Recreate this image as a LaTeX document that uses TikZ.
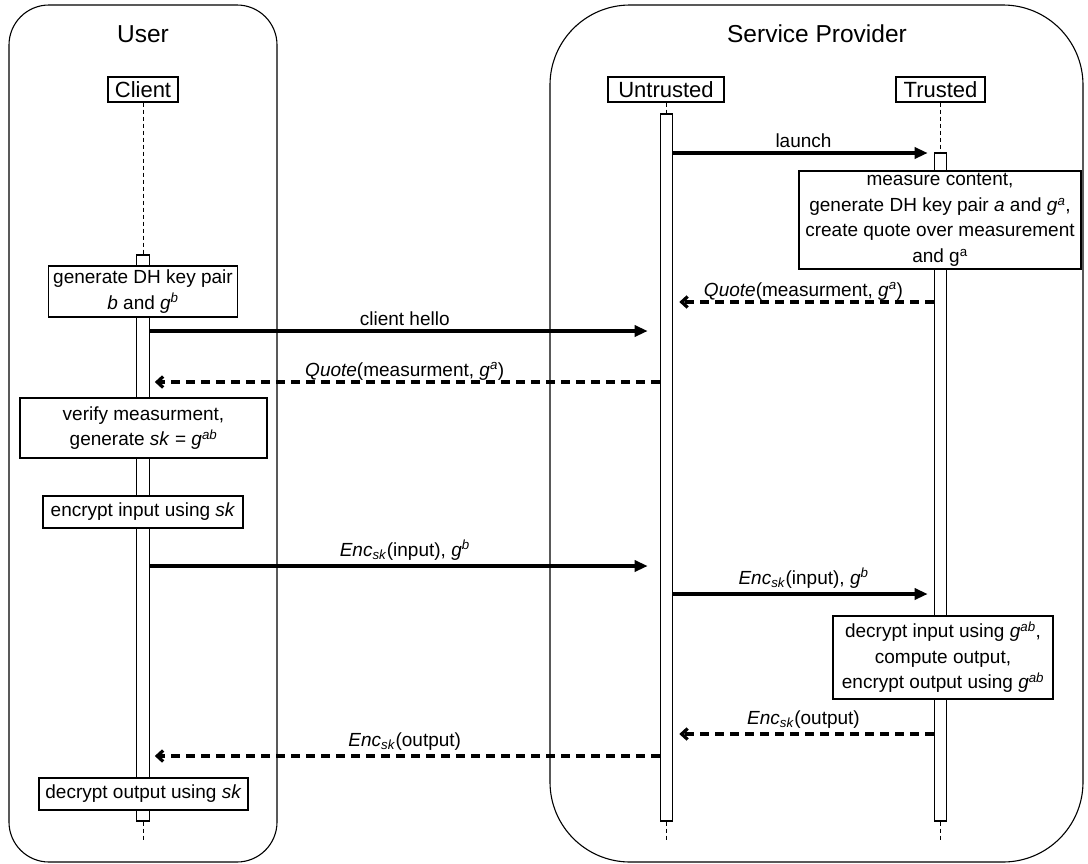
\documentclass[tikz,border=0pt]{standalone}
\usepackage{fontspec}
\setmainfont{Liberation Sans}
\usetikzlibrary{arrows.meta}
\begin{document}
\begin{tikzpicture}[x=1pt,y=-1pt,
  frame/.style={draw=black, line width=1.1pt, inner sep=0pt},
  title/.style={font=\fontsize{24.5}{29}\selectfont, anchor=base},
  head/.style={draw, line width=1.1pt, fill=white, minimum height=25pt, inner sep=0pt, font=\fontsize{22}{26}\selectfont},
  bar/.style={draw, line width=1.1pt, fill=white, minimum width=12.5pt, inner sep=0pt},
  act/.style={draw, line width=1.1pt, fill=white, align=center, inner sep=0pt, font=\fontsize{19}{25.5}\selectfont},
  life/.style={line width=1pt, dash pattern=on 4pt off 3pt},
  msg/.style={line width=3.2pt, -{Triangle[length=13pt,width=11pt]}, shorten >=6pt},
  rep/.style={line width=3.2pt, dash pattern=on 9pt off 6pt, -{Straight Barb[length=6pt,width=11pt]}, shorten >=6pt},
  lbl/.style={font=\fontsize{19}{23}\selectfont, anchor=base, yshift=6pt},
  lblE/.style={font=\fontsize{19}{23}\selectfont, anchor=base, yshift=10pt}
]
\useasboundingbox (0,0) rectangle (1088,863);

% swimlane frames
\node[frame, rounded corners=40pt, minimum width=268pt, minimum height=857pt] (userbox) at (143,433.5) {};
\node[frame, rounded corners=80pt, minimum width=533pt, minimum height=857pt] (spbox) at (816.5,433.5) {};
\node[title] (usert) at (143,42) {User};
\node[title] (spt) at (817,42) {Service Provider};

% lifeline heads
\node[head, minimum width=70pt] (client) at (143,89.5) {Client};
\node[head, minimum width=116pt] (untr) at (666,89.5) {Untrusted};
\node[head, minimum width=89pt] (trus) at (940.5,89.5) {Trusted};

% activation bars
\node[bar, minimum height=566pt] (cbar) at (143,538) {};
\node[bar, minimum height=707pt] (ubar) at (666.5,467.5) {};
\node[bar, minimum height=668pt] (tbar) at (940.5,487) {};

% lifelines
\coordinate (cend) at (143,841);
\coordinate (uend) at (666.5,841);
\coordinate (tend) at (940.5,841);
\draw[life] (client.south) -- (cbar.north);
\draw[life] (ubar.north |- untr.south) -- (ubar.north);
\draw[life] (trus.south) -- (tbar.north);
\draw[life] (cbar.south) -- (cend);
\draw[life] (ubar.south) -- (uend);
\draw[life] (tbar.south) -- (tend);

% processing steps
\node[act, minimum width=189pt, minimum height=51pt] (genb) at (143,291.5)
  {generate DH key pair\\\textit{b} and \textit{g}\textsuperscript{\textit{b}}};
\node[act, minimum width=282pt, minimum height=98pt] (meas) at (940,220)
  {measure content,\\generate DH key pair \textit{a} and \textit{g}\textsuperscript{\textit{a}},\\create quote over measurement\\and g\textsuperscript{a}};
\node[act, minimum width=247pt, minimum height=60pt] (verify) at (143.5,428)
  {verify measurment,\\generate \textit{sk} = \textit{g}\textsuperscript{\textit{ab}}};
\node[act, minimum width=200pt, minimum height=32pt] (encin) at (143,512)
  {encrypt input using \textit{sk}};
\node[act, minimum width=220pt, minimum height=83pt] (decin) at (943,657.5)
  {decrypt input using \textit{g}\textsuperscript{\textit{ab}},\\compute output,\\encrypt output using \textit{g}\textsuperscript{\textit{ab}}};
\node[act, minimum width=209pt, minimum height=32pt] (decout) at (143.5,794)
  {decrypt output using \textit{sk}};

% message levels
\coordinate (yL) at (0,153);
\coordinate (yQa) at (0,302);
\coordinate (yH) at (0,331);
\coordinate (yQb) at (0,382);
\coordinate (yEa) at (0,566);
\coordinate (yEb) at (0,594);
\coordinate (yOa) at (0,734);
\coordinate (yOb) at (0,756);

% messages
\draw[msg] (ubar.east |- yL) -- node[lbl]{launch} (tbar.west |- yL);
\draw[rep] (tbar.west |- yQa) -- node[lbl]{\textit{Quote}(measurment, \textit{g}\textsuperscript{\textit{a}})} (ubar.east |- yQa);
\draw[msg, shorten >=12pt] (cbar.east |- yH) -- node[lbl]{client hello} (ubar.west |- yH);
\draw[rep, shorten >=5pt] (ubar.west |- yQb) -- node[lbl]{\textit{Quote}(measurment, \textit{g}\textsuperscript{\textit{a}})} (cbar.east |- yQb);
\draw[msg, shorten >=12pt] (cbar.east |- yEa) -- node[lblE]{\textit{Enc}\textsubscript{\textit{sk}}(input), \textit{g}\textsuperscript{\textit{b}}} (ubar.west |- yEa);
\draw[msg] (ubar.east |- yEb) -- node[lblE]{\textit{Enc}\textsubscript{\textit{sk}}(input), \textit{g}\textsuperscript{\textit{b}}} (tbar.west |- yEb);
\draw[rep] (tbar.west |- yOa) -- node[lblE]{\textit{Enc}\textsubscript{\textit{sk}}(output)} (ubar.east |- yOa);
\draw[rep, shorten >=5pt] (ubar.west |- yOb) -- node[lblE]{\textit{Enc}\textsubscript{\textit{sk}}(output)} (cbar.east |- yOb);
\end{tikzpicture}
\end{document}
